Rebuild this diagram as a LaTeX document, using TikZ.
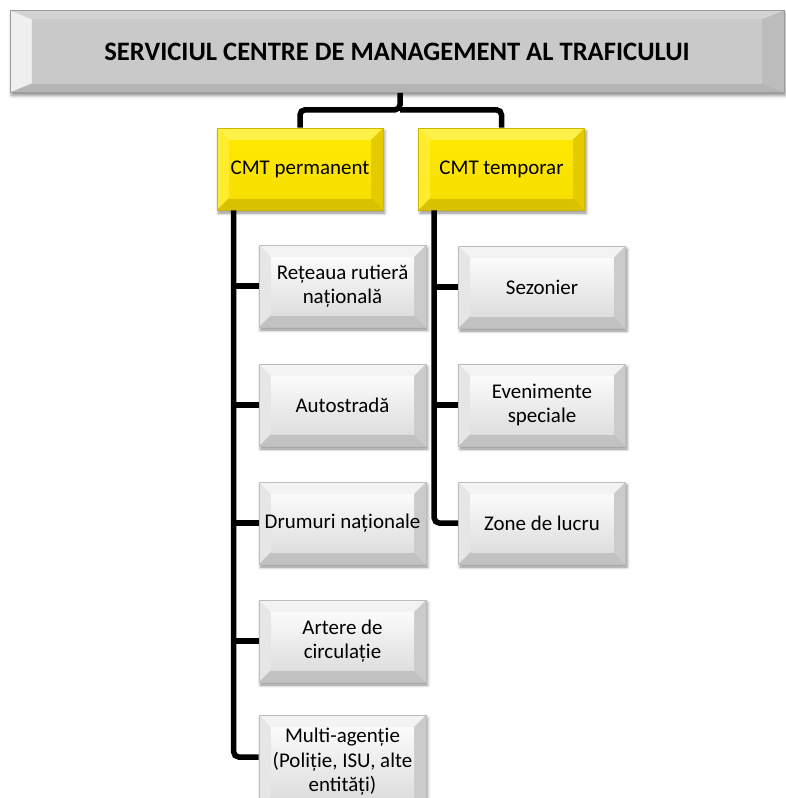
\documentclass[tikz,border=0pt]{standalone}
\usepackage{fontspec}
\setmainfont{Carlito}
\usetikzlibrary{calc,shadows.blur}

% palette
\definecolor{hdrFill}{HTML}{C9C9C9}
\definecolor{hdrTop}{HTML}{D3D3D3}
\definecolor{hdrLeft}{HTML}{EFEFEF}
\definecolor{hdrRight}{HTML}{BCBCBC}
\definecolor{hdrBot}{HTML}{B5B5B5}
\definecolor{hdrLine}{HTML}{9C9C9C}
\definecolor{ylwIn}{HTML}{FFE800}
\definecolor{ylwIn2}{HTML}{F7DF00}
\definecolor{ylwTop}{HTML}{FFF04A}
\definecolor{ylwLeft}{HTML}{FFEC2E}
\definecolor{ylwRight}{HTML}{E3CB00}
\definecolor{ylwBot}{HTML}{D8C100}
\definecolor{ylwLine}{HTML}{CDB700}
\definecolor{gryIn}{HTML}{FBFBFB}
\definecolor{gryIn2}{HTML}{DEDEDE}
\definecolor{gryTop}{HTML}{F3F3F3}
\definecolor{gryLeft}{HTML}{E6E6E6}
\definecolor{gryRight}{HTML}{CBCBCB}
\definecolor{gryBot}{HTML}{C2C2C2}
\definecolor{gryLine}{HTML}{BDBDBD}

% bevelled face: #1,#2 bevel insets; #3..#6 top/left/right/bottom facets; #7,#8 face gradient
\newcommand\bevelpaint[8]{%
  \coordinate (bvA) at (path picture bounding box.north west);
  \coordinate (bvB) at (path picture bounding box.north east);
  \coordinate (bvC) at (path picture bounding box.south east);
  \coordinate (bvD) at (path picture bounding box.south west);
  \coordinate (bva) at ($(bvA)+(#1,-#2)$);
  \coordinate (bvb) at ($(bvB)+(-#1,-#2)$);
  \coordinate (bvc) at ($(bvC)+(-#1,#2)$);
  \coordinate (bvd) at ($(bvD)+(#1,#2)$);
  \fill[#3] (bvA) -- (bvB) -- (bvb) -- (bva) -- cycle;
  \fill[#4] (bvA) -- (bva) -- (bvd) -- (bvD) -- cycle;
  \fill[#5] (bvB) -- (bvC) -- (bvc) -- (bvb) -- cycle;
  \fill[#6] (bvD) -- (bvd) -- (bvc) -- (bvC) -- cycle;
  \shade[top color=#7, bottom color=#8] (bva) rectangle (bvc);
}

\tikzset{
  boxbase/.style={rectangle, inner sep=0pt, align=center, text=black,
    line width=0.6bp,
    blur shadow={shadow xshift=1.5bp, shadow yshift=-3bp,
      shadow blur radius=3bp, shadow opacity=45}},
  hdrbox/.style={boxbase, draw=hdrLine, fill=hdrFill,
    minimum width=774bp, minimum height=82bp,
    font=\fontsize{26.7}{30}\selectfont\bfseries,
    path picture={\bevelpaint{22bp}{9bp}{hdrTop}{hdrLeft}{hdrRight}{hdrBot}{hdrFill}{hdrFill}}},
  cmtbox/.style={boxbase, draw=ylwLine, fill=ylwIn,
    minimum width=166bp, minimum height=82bp,
    font=\fontsize{21}{25}\selectfont,
    path picture={\bevelpaint{12bp}{12bp}{ylwTop}{ylwLeft}{ylwRight}{ylwBot}{ylwIn}{ylwIn2}}},
  itembox/.style={boxbase, draw=gryLine, fill=gryIn,
    minimum width=167bp, minimum height=82bp,
    font=\fontsize{21}{24.5}\selectfont,
    path picture={\bevelpaint{12bp}{12bp}{gryTop}{gryLeft}{gryRight}{gryBot}{gryIn}{gryIn2}}},
  link/.style={draw=black, line width=5.5bp, line cap=butt},
  trunk/.style={link, rounded corners=5bp},
}

\begin{document}
\begin{tikzpicture}[x=1bp, y=-1bp]
\useasboundingbox (0,0) rectangle (786,798);

% header
\node[hdrbox] (hdr) at (397,51.5) {SERVICIUL CENTRE DE MANAGEMENT AL TRAFICULUI};

% the two centre types
\node[cmtbox] (perm) at (300,169) {CMT permanent};
\node[cmtbox] (temp) at (501.5,169) {CMT temporar};

% permanent centres
\node[itembox] (p1) at (342.5,286) {Rețeaua rutieră\\națională};
\node[itembox] (p2) at (342.5,405) {Autostradă};
\node[itembox] (p3) at (342.5,523) {Drumuri naționale};
\node[itembox] (p4) at (342.5,641) {Artere de\\circulație};
\node[itembox, minimum height=94bp] (p5) at (342.5,762) {Multi-agenție\\(Poliție, ISU, alte\\entități)};

% temporary centres
\node[itembox] (t1) at (542,287) {Sezonier};
\node[itembox] (t2) at (542,405) {Evenimente\\speciale};
\node[itembox] (t3) at (542,523) {Zone de lucru};

% header to centre types
\coordinate (fork) at ($(hdr.south)+(3,17)$);
\draw[trunk] (hdr.south -| fork) -- (fork) -| (perm.north);
\draw[trunk] (fork) -| (temp.north);

% permanent branch
\coordinate (pt) at ($(perm.south west)+(17,0)$);
\coordinate (p5in) at ($(p5.west)+(0,-5)$);
\draw[trunk] (pt) |- (p5in);
\foreach \b in {p1,p2,p3,p4} \draw[link] (pt |- \b.west) -- (\b.west);

% temporary branch
\coordinate (tt) at ($(temp.south west)+(16,0)$);
\draw[trunk] (tt) |- (t3.west);
\foreach \b in {t1,t2} \draw[link] (tt |- \b.west) -- (\b.west);
\end{tikzpicture}
\end{document}
